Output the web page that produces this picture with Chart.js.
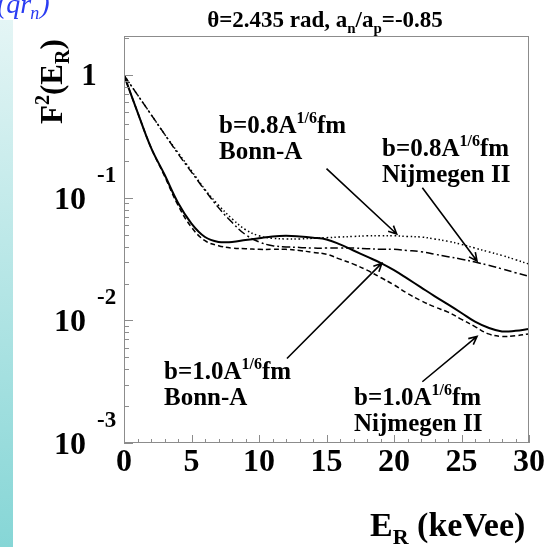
<!DOCTYPE html>
<html lang="en">
  <head>
    <meta charset="UTF-8" />
    <title>F2(ER) form factor</title>
    <script src="https://cdn.jsdelivr.net/npm/chart.js"></script>
    <style>
      html, body { margin: 0; padding: 0; background: #fff; }
      #wrap { width: 557px; height: 547px; position: relative; }
    </style>
  </head>
  <body>
    <div id="wrap"><canvas id="ffChart" width="557" height="547"></canvas></div>
    <script>
      // recoil energy (keVee)
      const energy = [0, 1, 2, 3, 4, 5, 6, 7, 8, 9, 10, 11, 12, 13, 14, 15, 16, 17, 18, 19, 20, 21, 22, 23, 24, 25, 26, 27, 28, 29, 30];

      // b=1.0 A^1/6 fm, Bonn-A (solid)
      const bonnA10 = [1, 0.501, 0.257, 0.155, 0.0912, 0.0617, 0.0479, 0.0437, 0.0437, 0.0452, 0.0468, 0.0484, 0.049, 0.0484, 0.0473, 0.0457,
        0.0417, 0.0372, 0.0331, 0.0295, 0.0257, 0.0219, 0.0186, 0.0158, 0.0135, 0.0115, 0.00977, 0.00871, 0.00813, 0.00822, 0.00851];
      // b=1.0 A^1/6 fm, Nijmegen II (dashed)
      const nijm10 = [1, 0.501, 0.257, 0.151, 0.0871, 0.0575, 0.0447, 0.0407, 0.0389, 0.0385, 0.038, 0.038, 0.038, 0.0372, 0.0359, 0.0347,
        0.0316, 0.0288, 0.0257, 0.0224, 0.0195, 0.0166, 0.0145, 0.0129, 0.0117, 0.0102, 0.00891, 0.00776, 0.00741, 0.0075, 0.00776];
      // b=0.8 A^1/6 fm, Bonn-A (dotted)
      const bonnA08 = [1, 0.692, 0.479, 0.331, 0.234, 0.166, 0.117, 0.0871, 0.0676, 0.055, 0.049, 0.0468, 0.0462, 0.0462, 0.0468, 0.0473,
        0.0479, 0.0484, 0.049, 0.049, 0.049, 0.0484, 0.0479, 0.0462, 0.0442, 0.0417, 0.0389, 0.0363, 0.0339, 0.0313, 0.0288];
      // b=0.8 A^1/6 fm, Nijmegen II (dash-dot)
      const nijm08 = [1, 0.692, 0.479, 0.331, 0.229, 0.162, 0.115, 0.0832, 0.0631, 0.0501, 0.0437, 0.0407, 0.0398, 0.0394, 0.0389, 0.0389,
        0.0389, 0.0389, 0.0385, 0.038, 0.038, 0.0372, 0.0363, 0.0347, 0.0331, 0.0316, 0.0299, 0.0282, 0.0263, 0.0245, 0.0229];

      const xTicks = [0, 5, 10, 15, 20, 25, 30];
      const yDecades = [-3, -2, -1, 0];

      // arrows: [tailX, tailY, tipX, tipY] in data units
      const arrows = [
        [15.0, 0.173, 20.2, 0.0507],
        [22.1, 0.121, 26.15, 0.0305],
        [12.07, 0.00489, 19.1, 0.0293],
        [22.1, 0.00316, 26.15, 0.0074],
      ];

      const SERIF = '"Liberation Serif", "DejaVu Serif", serif';

      function pts(ys) {
        return energy.map((e, i) => ({ x: e, y: ys[i] }));
      }

      // draws text parts: [text, kind] kind 0 normal, 1 sup, 2 sub
      function rich(ctx, x, y, parts, size, measureOnly) {
        let cx = x;
        parts.forEach(([t, k]) => {
          const s = k ? Math.round(size * 0.64) : size;
          ctx.font = "bold " + s + "px " + SERIF;
          const dy = k === 1 ? -size * 0.42 : k === 2 ? size * 0.24 : 0;
          if (!measureOnly) ctx.fillText(t, cx, y + dy);
          cx += ctx.measureText(t).width;
        });
        return cx - x;
      }

      function label(ctx, x, y, b, model) {
        rich(ctx, x, y, [["b=" + b + "A", 0], ["1/6", 1], ["fm", 0]], 25);
        rich(ctx, x, y + 26, [[model, 0]], 25);
      }

      function arrow(ctx, x0, y0, x1, y1) {
        ctx.beginPath();
        ctx.moveTo(x0, y0);
        ctx.lineTo(x1, y1);
        const a = Math.atan2(y1 - y0, x1 - x0);
        const h = 9;
        ctx.moveTo(x1 - h * Math.cos(a - 0.45), y1 - h * Math.sin(a - 0.45));
        ctx.lineTo(x1, y1);
        ctx.lineTo(x1 - h * Math.cos(a + 0.45), y1 - h * Math.sin(a + 0.45));
        ctx.stroke();
      }

      const decor = {
        id: "decor",
        beforeDraw(chart) {
          const ctx = chart.ctx;
          ctx.save();
          ctx.fillStyle = "#fff";
          ctx.fillRect(0, 0, chart.width, chart.height);
          const g = ctx.createLinearGradient(0, 20, 0, chart.height);
          g.addColorStop(0, "#e4f5f5");
          g.addColorStop(1, "#86d6d6");
          ctx.fillStyle = g;
          ctx.fillRect(0, 20, 13, chart.height - 20);
          ctx.restore();
        },
        afterDraw(chart) {
          const ctx = chart.ctx;
          const xs = chart.scales.x, ys = chart.scales.y;
          const a = chart.chartArea;
          ctx.save();

          // frame and ticks
          ctx.strokeStyle = "#8c8c8c";
          ctx.lineWidth = 1;
          ctx.strokeRect(a.left + 0.5, a.top + 0.5, a.right - a.left - 1, a.bottom - a.top - 1);
          ctx.beginPath();
          for (let v = 0; v <= 30; v++) {
            const px = Math.round(xs.getPixelForValue(v)) + 0.5;
            const len = v % 5 === 0 ? 8 : 4;
            ctx.moveTo(px, a.bottom);
            ctx.lineTo(px, a.bottom - len);
          }
          yDecades.forEach((d) => {
            for (let m = 1; m <= 9; m++) {
              const v = m * Math.pow(10, d);
              if (v > ys.max) break;
              const py = Math.round(ys.getPixelForValue(v)) + 0.5;
              ctx.moveTo(a.left, py);
              ctx.lineTo(a.left + (m === 1 ? 9 : 5), py);
            }
          });
          ctx.stroke();

          ctx.fillStyle = "#000";
          ctx.textBaseline = "alphabetic";

          // x tick labels
          ctx.textAlign = "center";
          ctx.font = "bold 32px " + SERIF;
          xTicks.forEach((v) => ctx.fillText(String(v), xs.getPixelForValue(v), 471));

          // y tick labels (ROOT style 10^n)
          yDecades.forEach((d) => {
            const py = ys.getPixelForValue(Math.pow(10, d));
            if (d === 0) {
              ctx.textAlign = "center";
              ctx.font = "bold 31px " + SERIF;
              ctx.fillText("1", 89, py + 10);
            } else {
              ctx.textAlign = "right";
              ctx.font = "bold 32px " + SERIF;
              ctx.fillText("10", 86, py + 11);
              ctx.textAlign = "left";
              ctx.font = "bold 23px " + SERIF;
              ctx.fillText(String(d), 97, py - 16);
            }
          });

          ctx.textAlign = "left";
          // title
          const tParts = [["\u03b8=2.435 rad, a", 0], ["n", 2], ["/a", 0], ["p", 2], ["=-0.85", 0]];
          const tw = rich(ctx, 0, 0, tParts, 23, true);
          rich(ctx, 325 - tw / 2, 27, tParts, 23);

          // axis titles
          rich(ctx, 370, 536, [["E", 0], ["R", 2], [" (keVee)", 0]], 34);
          ctx.save();
          ctx.translate(62, 124);
          ctx.rotate(-Math.PI / 2);
          rich(ctx, 0, 0, [["F", 0], ["2", 1], ["(E", 0], ["R", 2], [")", 0]], 31);
          ctx.restore();

          // curve labels
          label(ctx, 219, 133, "0.8", "Bonn-A");
          label(ctx, 382, 156, "0.8", "Nijmegen II");
          label(ctx, 164, 379, "1.0", "Bonn-A");
          label(ctx, 354, 405, "1.0", "Nijmegen II");

          ctx.strokeStyle = "#000";
          ctx.lineWidth = 1.6;
          arrows.forEach(([x0, y0, x1, y1]) =>
            arrow(ctx, xs.getPixelForValue(x0), ys.getPixelForValue(y0), xs.getPixelForValue(x1), ys.getPixelForValue(y1))
          );

          // slide fragment in the top-left corner
          ctx.fillStyle = "#2a3cf2";
          ctx.font = "italic 28px " + SERIF;
          ctx.fillText("(qr", -3, 13);
          let w = ctx.measureText("(qr").width - 4;
          ctx.font = "italic 18px " + SERIF;
          ctx.fillText("n", w, 19);
          w += ctx.measureText("n").width;
          ctx.font = "italic 28px " + SERIF;
          ctx.fillText(")", w + 1, 13);

          ctx.restore();
        },
      };

      const common = { pointRadius: 0, borderColor: "#000", fill: false, tension: 0.4 };

      new Chart(document.getElementById("ffChart"), {
        type: "line",
        data: {
          datasets: [
            { ...common, label: "b=1.0 Bonn-A", data: pts(bonnA10), borderWidth: 2 },
            { ...common, label: "b=1.0 Nijmegen II", data: pts(nijm10), borderWidth: 1.5, borderDash: [5, 3] },
            { ...common, label: "b=0.8 Bonn-A", data: pts(bonnA08), borderWidth: 1.5, borderDash: [1.5, 2.5] },
            { ...common, label: "b=0.8 Nijmegen II", data: pts(nijm08), borderWidth: 1.5, borderDash: [8, 3, 2, 3] },
          ],
        },
        options: {
          responsive: false,
          animation: false,
          layout: { padding: { left: 124, right: 28, top: 36, bottom: 104 } },
          plugins: { legend: { display: false }, tooltip: { enabled: false } },
          scales: {
            x: { type: "linear", min: 0, max: 30, display: false },
            y: { type: "logarithmic", min: 0.001, max: 2.09, display: false },
          },
        },
        plugins: [decor],
      });
    </script>
  </body>
</html>
